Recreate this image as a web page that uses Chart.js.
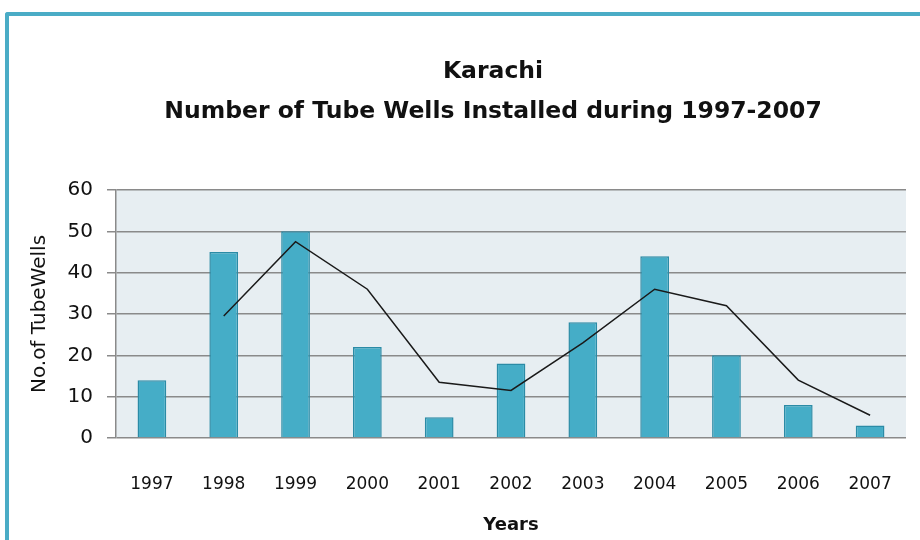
<!DOCTYPE html>
<html>
<head>
<meta charset="utf-8">
<script src="https://cdn.jsdelivr.net/npm/chart.js@4.4.1/dist/chart.umd.min.js"></script>
<style>
  body { margin: 0; background: #fff; }
  #wrap { position: relative; width: 920px; height: 540px; overflow: hidden; }
  #moldura {
    position: absolute; left: 5px; top: 12px; width: 940px; height: 560px;
    border-top: 4px solid #4aacc6; border-left: 4px solid #4aacc6;
    border-top-left-radius: 3px; box-sizing: border-box;
  }
  canvas { position: absolute; left: 0; top: 0; }
</style>
</head>
<body>
<div id="wrap">
  <div id="moldura"></div>
  <canvas id="graficoPocos" width="920" height="540"></canvas>
</div>
<script>
const anos = ['1997', '1998', '1999', '2000', '2001', '2002', '2003', '2004', '2005', '2006', '2007'];
const pocos = [14, 45, 50, 22, 5, 18, 28, 44, 20, 8, 3];
// linha de tendencia (comeca em 1998)
const tendencia = [null, 29.5, 47.5, 36, 13.5, 11.5, 23, 36, 32, 14, 5.5];
const ticksY = [0, 10, 20, 30, 40, 50, 60];
const titulo = ['Karachi', 'Number of Tube Wells Installed during 1997-2007'];

const fonte = "'DejaVu Sans', sans-serif";

const fundoArea = {
  id: 'fundoArea',
  beforeDraw(chart) {
    const { ctx, chartArea } = chart;
    ctx.save();
    ctx.fillStyle = '#e7eef2';
    ctx.fillRect(chartArea.left, chartArea.top, chartArea.right - chartArea.left, chartArea.bottom - chartArea.top);
    ctx.restore();
  }
};

// o titulo do original fica deslocado para a direita, por isso e desenhado aqui
const tituloCentral = {
  id: 'tituloCentral',
  afterDraw(chart) {
    const ctx = chart.ctx;
    ctx.save();
    ctx.fillStyle = '#111';
    ctx.font = "bold 23.5px " + fonte;
    ctx.textAlign = 'center';
    ctx.textBaseline = 'middle';
    ctx.fillText(titulo[0], 493, 72);
    ctx.fillText(titulo[1], 493, 112);
    ctx.restore();
  }
};

const graficoPocos = new Chart(document.getElementById('graficoPocos'), {
  type: 'bar',
  data: {
    labels: anos,
    datasets: [{
      type: 'line',
      label: 'Tendência',
      data: tendencia,
      borderColor: '#1a1a1a',
      borderWidth: 1.5,
      pointRadius: 0,
      tension: 0,
      fill: false,
      order: 0
    }, {
      label: 'Tube Wells',
      data: pocos,
      backgroundColor: '#45adc7',
      borderColor: '#2b8ba6',
      borderWidth: 1.5,
      barPercentage: 0.4,
      categoryPercentage: 1,
      order: 1
    }]
  },
  options: {
    responsive: false,
    animation: false,
    layout: { padding: { top: 190, right: 6, bottom: 0, left: 0 } },
    plugins: {
      legend: { display: false },
      tooltip: { enabled: false },
      title: { display: false }
    },
    scales: {
      x: {
        grid: { display: false },
        border: { display: false },
        ticks: { color: '#111', font: { family: fonte, size: 17 }, padding: 28 },
        title: { display: true, text: 'Years', color: '#111', font: { family: fonte, size: 18, weight: 'bold' }, padding: { top: 14 } },
        afterFit(scale) { scale.height = 102; }
      },
      y: {
        min: 0,
        max: 60,
        afterBuildTicks(scale) { scale.ticks = ticksY.map(v => ({ value: v })); },
        grid: { color: '#8a8a8a', lineWidth: 1.5, tickLength: 9, drawTicks: true },
        border: { display: true, color: '#8a8a8a', width: 1.5 },
        ticks: { color: '#111', font: { family: fonte, size: 20 }, padding: 14 },
        title: { display: true, text: 'No.of TubeWells', color: '#111', font: { family: fonte, size: 20 }, padding: { top: 28, bottom: 0 } },
        afterFit(scale) { scale.width = 116; }
      }
    }
  },
  plugins: [fundoArea, tituloCentral]
});
</script>
</body>
</html>
